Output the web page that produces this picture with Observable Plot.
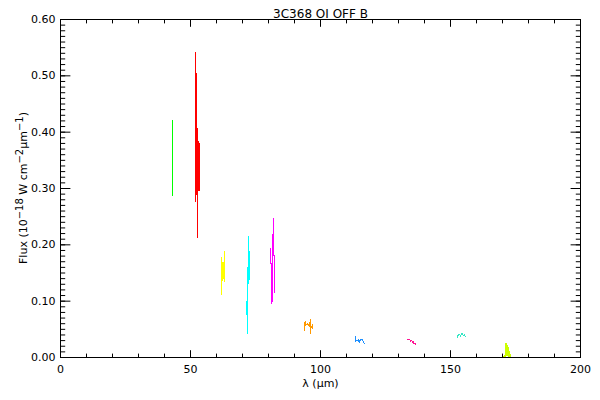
<!DOCTYPE html>
<html><head><meta charset="utf-8">
<script src="https://cdn.jsdelivr.net/npm/d3@7"></script>
<script src="https://cdn.jsdelivr.net/npm/@observablehq/plot@0.6"></script>
<style>body{margin:0;background:#fff}#chart svg{display:block}</style>
</head><body><div id="chart"></div>
<script>
const title = "3C368 OI OFF B";
const xLabel = "λ (μm)";
const xTicks = [0, 50, 100, 150, 200];
const yTicks = [0.0, 0.1, 0.2, 0.3, 0.4, 0.5, 0.6];

const seriesNames  = ["OI63a", "OIII52", "OI63", "OIII88a", "OIII88b", "NII122a", "NII122b", "OI145a", "CII157", "NII205"];
const seriesColors = ["#00ff00", "#ff0000", "#ffff00", "#00ffff", "#ff00ff", "#ff9900", "#1e90ff", "#ff1493", "#33e6c4", "#ccff00"];

const greenWave = [43.05, 43.07, 43.09, 43.11];
const greenFlux = [0.300, 0.421, 0.287, 0.380];

const redWave = [51.92, 51.93, 52.30, 52.32, 52.40, 52.42, 53.20, 53.22, 53.27, 53.29, 52.84, 52.85, 52.86];
const redFlux = [0.541, 0.277, 0.300, 0.505, 0.500, 0.298, 0.296, 0.384, 0.380, 0.296, 0.296, 0.407, 0.212];

const yellowWave = [61.92, 61.94, 62.30, 62.32, 62.60, 62.62, 62.96, 62.98, 63.22, 63.24];
const yellowFlux = [0.112, 0.177, 0.137, 0.169, 0.140, 0.168, 0.134, 0.178, 0.134, 0.188];

const cyanWave = [71.62, 71.64, 71.70, 71.72, 72.02, 72.04, 72.15, 72.20, 72.25, 72.42, 72.44, 72.75, 72.78];
const cyanFlux = [0.076, 0.100, 0.078, 0.098, 0.042, 0.131, 0.169, 0.131, 0.165, 0.215, 0.131, 0.188, 0.138];

const magentaWave = [80.90, 80.92, 81.27, 81.29, 81.63, 81.65, 82.02, 82.04, 82.06, 82.40, 82.42];
const magentaFlux = [0.194, 0.167, 0.167, 0.095, 0.113, 0.218, 0.181, 0.247, 0.181, 0.181, 0.116];

const orangeWave = [93.85, 93.87, 94.10, 94.35, 94.40, 94.90, 95.30, 95.60, 95.90, 96.00, 96.05, 96.30, 96.60, 96.80, 96.85];
const orangeFlux = [0.048, 0.062, 0.058, 0.064, 0.057, 0.060, 0.056, 0.059, 0.055, 0.067, 0.043, 0.057, 0.054, 0.058, 0.052];

const blueWave = [113.45, 113.50, 114.00, 114.35, 114.50, 114.90, 115.30, 115.60, 116.00, 116.30, 116.75];
const blueFlux = [0.037, 0.029, 0.030, 0.030, 0.033, 0.027, 0.031, 0.033, 0.032, 0.030, 0.025];

const pinkWave = [133.45, 134.40, 134.60, 135.00, 135.30, 135.50, 135.80, 136.00, 136.35, 136.40];
const pinkFlux = [0.032, 0.031, 0.029, 0.030, 0.028, 0.026, 0.028, 0.024, 0.026, 0.023];

const tealWave = [152.70, 152.75, 153.30, 153.60, 153.85, 154.20, 154.50, 154.80, 155.10, 155.40, 155.80];
const tealFlux = [0.0355, 0.038, 0.041, 0.040, 0.037, 0.042, 0.0426, 0.040, 0.039, 0.040, 0.037];

const limeWave = [170.50, 170.80, 171.10, 171.35, 171.40, 171.75, 171.80, 172.15, 172.20, 172.55, 172.60, 173.00, 173.10];
const limeFlux = [0.001, 0.004, 0.002, 0.025, 0.003, 0.022, 0.004, 0.018, 0.002, 0.011, 0.000, 0.005, 0.000];

const waves = [greenWave, redWave, yellowWave, cyanWave, magentaWave, orangeWave, blueWave, pinkWave, tealWave, limeWave];
const fluxes = [greenFlux, redFlux, yellowFlux, cyanFlux, magentaFlux, orangeFlux, blueFlux, pinkFlux, tealFlux, limeFlux];

const rows = [];
seriesNames.forEach((name, i) => {
  waves[i].forEach((w, j) => rows.push({series: name, color: seriesColors[i], wave: w, flux: fluxes[i][j]}));
});

const xMinor = d3.range(0, 201, 10);
const yMinor = d3.range(0, 61, 1).map(v => v / 100);
const blank = () => "";
const font = "'DejaVu Sans', sans-serif";

const plot = Plot.plot({
  width: 600,
  height: 400,
  marginLeft: 60,
  marginRight: 20,
  marginTop: 19,
  marginBottom: 43,
  style: {fontFamily: font, fontSize: "11px", background: "#fff", color: "#000"},
  x: {domain: [0, 200], label: null},
  y: {domain: [0, 0.6], label: null},
  marks: [
    Plot.line(rows, {x: "wave", y: "flux", z: "series", stroke: "color", strokeWidth: 1, shapeRendering: "crispEdges"}),
    Plot.frame({stroke: "#000"}),
    // bottom
    Plot.axisX({anchor: "bottom", ticks: xTicks, tickSize: -6.8, tickFormat: blank, label: null}),
    Plot.axisX({anchor: "bottom", ticks: xMinor, tickSize: -3.4, tickFormat: blank, label: null}),
    Plot.axisX({anchor: "bottom", ticks: xTicks, tickSize: 0, tickPadding: 8, tickFormat: d => String(d), label: null}),
    // top
    Plot.axisX({anchor: "top", ticks: xTicks, tickSize: -6.8, tickFormat: blank, label: null}),
    Plot.axisX({anchor: "top", ticks: xMinor, tickSize: -3.4, tickFormat: blank, label: null}),
    // left
    Plot.axisY({anchor: "left", ticks: yTicks, tickSize: -10.4, tickFormat: blank, label: null}),
    Plot.axisY({anchor: "left", ticks: yMinor, tickSize: -5.2, tickFormat: blank, label: null}),
    Plot.axisY({anchor: "left", ticks: yTicks, tickSize: 0, tickPadding: 5, tickFormat: d => d.toFixed(2), label: null}),
    // right
    Plot.axisY({anchor: "right", ticks: yTicks, tickSize: -10.4, tickFormat: blank, label: null}),
    Plot.axisY({anchor: "right", ticks: yMinor, tickSize: -5.2, tickFormat: blank, label: null}),
    Plot.text([title], {frameAnchor: "top", dy: -10, fontSize: 12}),
    Plot.text([xLabel], {frameAnchor: "bottom", dy: 29, fontSize: 11})
  ]
});

// y-axis label with superscripts
const svg = d3.select(plot);
const t = svg.append("text")
  .attr("transform", "translate(27,188) rotate(-90)")
  .attr("text-anchor", "middle")
  .attr("font-family", font)
  .attr("font-size", 11)
  .attr("fill", "#000");
const parts = [["Flux (10", 0], ["−18", 1], [" W cm", 0], ["−2", 1], ["μm", 0], ["−1", 1], [")", 0]];
let prev = 0;
parts.forEach(([s, sup]) => {
  const shift = sup ? -4 : 0;
  t.append("tspan").attr("dy", shift - prev).attr("font-size", sup ? 10 : 11).text(s);
  prev = shift;
});

document.getElementById("chart").appendChild(plot);
</script>
</body></html>
